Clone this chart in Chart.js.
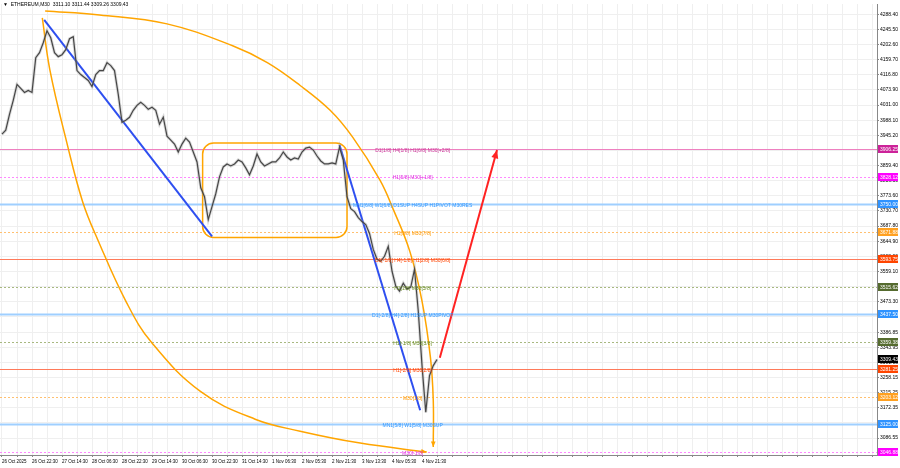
<!DOCTYPE html>
<html>
<head>
<meta charset="utf-8">
<script src="https://cdn.jsdelivr.net/npm/chart.js@4.4.1/dist/chart.umd.min.js"></script>
<style>
  html, body { margin: 0; padding: 0; background: #fff; }
</style>
</head>
<body>
<canvas id="myChart" width="900" height="468"></canvas>
<script>
// time axis: one label every 32 M30 bars
const timeLabels = ['26 Oct 2025', '26 Oct 22:30', '27 Oct 14:30', '28 Oct 06:30', '28 Oct 22:30',
  '29 Oct 14:30', '30 Oct 06:30', '30 Oct 22:30', '31 Oct 14:30', '1 Nov 06:30', '2 Nov 05:30',
  '2 Nov 21:30', '3 Nov 13:30', '4 Nov 05:30', '4 Nov 21:30'];

const priceTicks = [4288.40, 4245.50, 4202.60, 4159.70, 4116.80, 4073.90, 4031.00, 3988.10, 3945.20,
  3902.30, 3859.40, 3816.50, 3773.60, 3730.70, 3687.80, 3644.90, 3602.00, 3559.10, 3516.20, 3473.30,
  3430.40, 3386.85, 3343.95, 3301.05, 3258.15, 3215.25, 3172.35, 3129.45, 3086.55];

// closes sampled every 4 bars
const closes = [3948.5, 3959.8, 4004.8, 4044.3, 4089.4, 4078.1, 4066.8, 4072.5, 4066.8, 4165.4,
  4179.5, 4207.7, 4241.5, 4221.8, 4179.5, 4168.3, 4173.9, 4188.0, 4219.0, 4224.6,
  4128.8, 4117.5, 4109.1, 4100.6, 4083.7, 4117.5, 4128.8, 4128.8, 4151.3, 4142.9,
  4128.8, 4061.2, 3982.3, 3987.9, 3996.4, 4016.1, 4030.2, 4038.6, 4030.2, 4018.9,
  4024.6, 4016.1, 3976.7, 3996.4, 3942.8, 3931.6, 3920.3, 3897.8, 3920.3, 3937.2,
  3925.9, 3897.8, 3869.6, 3796.3, 3771.0, 3706.2, 3742.8, 3779.4, 3827.3, 3855.5,
  3864.0, 3858.3, 3864.0, 3875.2, 3869.6, 3852.7, 3833.0, 3858.3, 3892.1, 3869.6,
  3858.3, 3864.0, 3869.6, 3869.6, 3880.9, 3897.8, 3883.7, 3875.2, 3880.9, 3878.0,
  3897.8, 3909.0, 3911.8, 3903.4, 3886.5, 3872.4, 3864.0, 3864.0, 3866.8, 3864.0,
  3911.8, 3875.2, 3771.0, 3737.2, 3728.7, 3711.8, 3700.5, 3692.1, 3666.7, 3621.6,
  3593.4, 3587.8, 3601.9, 3630.1, 3559.6, 3517.4, 3503.3, 3525.8, 3508.9, 3514.5,
  3565.3, 3446.9, 3291.9, 3159.6, 3263.8, 3291.9, 3309.43];
const closeBars = closes.map((_, i) => i * 4);

const lastOHLC = [3311.10, 3311.44, 3309.26, 3309.43];

// murrey math levels
const levelPrices = [3906.25, 3828.12, 3750.00, 3671.88, 3593.75, 3515.62, 3437.50, 3359.38,
  3281.25, 3203.12, 3125.00, 3046.88];
const levelNames = ['D1[1/8] H4[1/8] H1[6/8] M30[+2/8]', 'H1[5/8] M30[+1/8]',
  'MN1[6/8] W1[6/8] D1SUP H4SUP H1PIVOT M30RES', 'H1[3/8] M30[7/8]',
  'D1[-1/8] H4[-1/8] H1[2/8] M30[6/8]', 'H1[1/8] M30[5/8]', 'D1[-2/8] H4[-2/8] H1SUP M30PIVOT',
  'H1[-1/8] M30[3/8]', 'H1[-2/8] M30[2/8]', 'M30[1/8]', 'MN1[5/8] W1[5/8] M30SUP', 'M30[-1/8]'];
const levelKinds = ['top', 'pink', 'blue', 'orange', 'red', 'olive', 'blue', 'olive',
  'red', 'orange', 'blue', 'pink'];

// drawn objects (bar index, price)
const upperArcBars = [46, 104, 176, 246, 283, 318, 350, 374, 403, 417, 435, 448, 457, 460, 460];
const upperArcPrices = [4297.9, 4286.6, 4261.2, 4199.2, 4151.3, 4086.5, 4016.1, 3940.0, 3818.9,
  3737.2, 3616.0, 3475.1, 3314.5, 3193.4, 3061.0];
const lowerArcBars = [43, 51, 69, 86, 102, 133, 160, 212, 270, 318, 382, 453];
const lowerArcPrices = [4278.1, 4131.6, 3925.9, 3756.9, 3649.8, 3470.0, 3356.0, 3218.0, 3140.0,
  3106.0, 3072.2, 3046.9];
const trend1Bars = [45, 224];
const trend1Prices = [4272.5, 3658.3];
const trend2Bars = [360, 446];
const trend2Prices = [3917.5, 3165.2];
const arrowBars = [467, 528];
const arrowPrices = [3314.5, 3903.4];
const boxBars = [214, 368];
const boxPrices = [3923.1, 3655.4];

const pts = (xs, ys) => xs.map((x, i) => ({ x: x, y: ys[i] }));

const kindStyle = {
  top:    { text: '#cc3399', line: '#ee80c0', box: '#cc2299', dash: [] },
  pink:   { text: '#e033e0', line: '#ff88ff', box: '#ff00ff', dash: [2, 2] },
  blue:   { text: '#3399ff', line: '#9fcfff', box: '#2f93ff', dash: [], width: 2 },
  orange: { text: '#ff9900', line: '#ffc070', box: '#ffa020', dash: [2, 2] },
  red:    { text: '#ff4400', line: '#ff7a5a', box: '#ff4500', dash: [] },
  olive:  { text: '#6b8e23', line: '#a8b880', box: '#556b2f', dash: [2, 2] }
};
const FAMILY = '"Liberation Sans", Arial, sans-serif';
const FONT = '5px ' + FAMILY;

const overlay = {
  id: 'overlay',
  beforeDatasetsDraw(chart) {
    const { ctx, chartArea: a, scales: { x, y } } = chart;
    ctx.save();
    levelPrices.forEach((p, i) => {
      const s = kindStyle[levelKinds[i]];
      const py = Math.round(y.getPixelForValue(p)) + 0.5;
      ctx.strokeStyle = s.line;
      ctx.lineWidth = s.width || 1;
      ctx.setLineDash(s.dash);
      ctx.beginPath(); ctx.moveTo(a.left, py); ctx.lineTo(a.right, py); ctx.stroke();
    });
    ctx.setLineDash([]);
    // rounded box
    const x0 = x.getPixelForValue(boxBars[0]), x1 = x.getPixelForValue(boxBars[1]);
    const y0 = y.getPixelForValue(boxPrices[0]), y1 = y.getPixelForValue(boxPrices[1]);
    ctx.strokeStyle = '#ffa500';
    ctx.lineWidth = 1.5;
    ctx.beginPath(); ctx.roundRect(x0, y0, x1 - x0, y1 - y0, 11); ctx.stroke();
    ctx.restore();
  },
  afterDatasetsDraw(chart) {
    const { ctx, scales: { x, y } } = chart;
    ctx.save();
    // arrow heads on the last segment of some datasets
    const head = (di, color, size) => {
      const d = chart.getDatasetMeta(di).data;
      const p1 = d[d.length - 2], p2 = d[d.length - 1];
      const ang = Math.atan2(p2.y - p1.y, p2.x - p1.x);
      ctx.fillStyle = color;
      ctx.beginPath();
      ctx.moveTo(p2.x, p2.y);
      ctx.lineTo(p2.x - size * Math.cos(ang - 0.4), p2.y - size * Math.sin(ang - 0.4));
      ctx.lineTo(p2.x - size * Math.cos(ang + 0.4), p2.y - size * Math.sin(ang + 0.4));
      ctx.closePath(); ctx.fill();
    };
    head(6, '#ff2222', 9);
    head(2, '#ffa500', 6);
    head(3, '#ffa500', 6);
    // level texts
    ctx.font = FONT;
    ctx.textAlign = 'center';
    ctx.textBaseline = 'middle';
    const lx = x.getPixelForValue(438);
    levelPrices.forEach((p, i) => {
      ctx.fillStyle = kindStyle[levelKinds[i]].text;
      ctx.fillText(levelNames[i], lx, y.getPixelForValue(p) + 1.5);
    });
    ctx.restore();
  },
  afterDraw(chart) {
    const { ctx, chartArea: a, scales: { y } } = chart;
    ctx.save();
    ctx.font = FONT;
    ctx.textBaseline = 'middle';
    ctx.textAlign = 'left';
    const tag = (p, bg, txt) => {
      const py = Math.round(y.getPixelForValue(p));
      ctx.fillStyle = bg;
      ctx.fillRect(a.right + 1, py - 4, 20, 8);
      ctx.fillStyle = '#fff';
      ctx.fillText(txt, a.right + 3, py + 0.5);
    };
    levelPrices.forEach((p, i) => tag(p, kindStyle[levelKinds[i]].box, p.toFixed(2)));
    tag(lastOHLC[3], '#000', lastOHLC[3].toFixed(2));
    // header
    ctx.fillStyle = '#000';
    ctx.fillText('\u25BC  ETHEREUM,M30  ' + lastOHLC.map(v => v.toFixed(2)).join(' '), 3, 5);
    ctx.restore();
  }
};

const ctx = document.getElementById('myChart');
new Chart(ctx, {
  type: 'line',
  data: {
    datasets: [
      { data: pts(closeBars, closes), borderColor: 'rgba(150,150,150,0.35)', borderWidth: 3 },
      { data: pts(closeBars, closes), borderColor: '#1c1c1c', borderWidth: 1.2 },
      { data: pts(upperArcBars, upperArcPrices), borderColor: '#ffa500', borderWidth: 1.5, tension: 0.4 },
      { data: pts(lowerArcBars, lowerArcPrices), borderColor: '#ffa500', borderWidth: 1.5, tension: 0.4 },
      { data: pts(trend1Bars, trend1Prices), borderColor: '#2e4ff0', borderWidth: 2 },
      { data: pts(trend2Bars, trend2Prices), borderColor: '#2e4ff0', borderWidth: 2 },
      { data: pts(arrowBars, arrowPrices), borderColor: '#ff2222', borderWidth: 2 }
    ]
  },
  options: {
    responsive: false,
    animation: false,
    layout: { padding: 0 },
    elements: { point: { radius: 0 }, line: { tension: 0 } },
    plugins: { legend: { display: false }, tooltip: { enabled: false } },
    scales: {
      x: {
        type: 'linear',
        min: -2.13,
        max: 933.3,
        afterBuildTicks: s => { s.ticks = []; for (let v = 0; v <= 928; v += 16) s.ticks.push({ value: v }); },
        afterFit: s => { s.height = 13; },
        grid: { color: '#efefef', tickLength: 2, tickColor: '#888' },
        border: { color: '#888' },
        ticks: {
          autoSkip: false, maxRotation: 0, align: 'start', padding: 2,
          color: '#000', font: { size: 4.5, family: FAMILY },
          callback: v => (v % 32 === 0 && v / 32 < timeLabels.length) ? timeLabels[v / 32] : ''
        }
      },
      y: {
        position: 'right',
        min: 3038.4,
        max: 4317.6,
        afterBuildTicks: s => { s.ticks = priceTicks.map(v => ({ value: v })); },
        afterFit: s => { s.width = 23; },
        grid: { color: '#efefef', tickLength: 2, tickColor: '#888' },
        border: { color: '#888' },
        ticks: {
          autoSkip: false, padding: 1,
          color: '#000', font: { size: 5, family: FAMILY },
          callback: v => v.toFixed(2)
        }
      }
    }
  },
  plugins: [overlay]
});
</script>
</body>
</html>
